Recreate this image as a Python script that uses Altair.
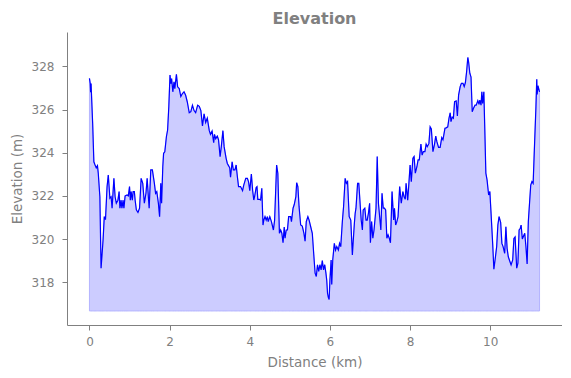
import altair as alt
import pandas as pd

distance_km = [
    0.00, 0.02, 0.03, 0.04, 0.08, 0.11, 0.14, 0.17, 0.20, 0.22, 0.26, 0.29, 0.34, 0.37, 0.40,
    0.44, 0.47, 0.51, 0.54, 0.565, 0.61, 0.64, 0.67, 0.71, 0.74, 0.76, 0.79, 0.81, 0.84, 0.86,
    0.89, 0.94, 0.97, 1.00, 1.02, 1.04, 1.07, 1.09, 1.12, 1.14, 1.17, 1.21, 1.25, 1.29, 1.33,
    1.37, 1.41, 1.44, 1.47, 1.49, 1.53, 1.57, 1.62, 1.65, 1.68, 1.72, 1.75, 1.78, 1.80, 1.83,
    1.85, 1.88, 1.92, 1.95, 1.98, 2.01, 2.03, 2.05, 2.08, 2.11, 2.13, 2.17, 2.20, 2.24, 2.28,
    2.32, 2.36, 2.40, 2.44, 2.49, 2.53, 2.57, 2.61, 2.65, 2.70, 2.74, 2.78, 2.82, 2.86, 2.90,
    2.94, 2.99, 3.02, 3.06, 3.10, 3.12, 3.15, 3.19, 3.22, 3.26, 3.29, 3.33, 3.36, 3.41, 3.44,
    3.47, 3.50, 3.52, 3.56, 3.59, 3.63, 3.66, 3.69, 3.72, 3.77, 3.82, 3.85, 3.90, 3.94, 3.97,
    4.00, 4.04, 4.07, 4.10, 4.12, 4.16, 4.18, 4.20, 4.24, 4.27, 4.30, 4.33, 4.35, 4.38, 4.41,
    4.44, 4.46, 4.50, 4.54, 4.59, 4.62, 4.67, 4.70, 4.74, 4.77, 4.80, 4.83, 4.86, 4.88, 4.91,
    4.94, 4.97, 5.02, 5.04, 5.08, 5.11, 5.15, 5.17, 5.20, 5.23, 5.27, 5.31, 5.35, 5.38, 5.41,
    5.45, 5.48, 5.52, 5.56, 5.60, 5.63, 5.66, 5.69, 5.72, 5.75, 5.78, 5.81, 5.84, 5.87, 5.90,
    5.92, 5.94, 5.96, 5.98, 6.00, 6.03, 6.045, 6.07, 6.11, 6.14, 6.17, 6.21, 6.24, 6.27, 6.31,
    6.34, 6.38, 6.41, 6.44, 6.48, 6.52, 6.56, 6.58, 6.61, 6.63, 6.65, 6.69, 6.72, 6.78, 6.81,
    6.83, 6.87, 6.90, 6.93, 6.96, 6.99, 7.01, 7.04, 7.07, 7.10, 7.15, 7.18, 7.21, 7.27, 7.30,
    7.33, 7.36, 7.39, 7.42, 7.45, 7.48, 7.51, 7.55, 7.59, 7.61, 7.64, 7.67, 7.70, 7.74, 7.78,
    7.82, 7.85, 7.88, 7.90, 7.94, 7.97, 8.00, 8.03, 8.07, 8.10, 8.13, 8.17, 8.20, 8.23, 8.27,
    8.30, 8.33, 8.37, 8.40, 8.43, 8.47, 8.50, 8.53, 8.57, 8.61, 8.64, 8.67, 8.71, 8.75, 8.79,
    8.82, 8.87, 8.90, 8.94, 8.97, 9.00, 9.02, 9.05, 9.08, 9.11, 9.15, 9.18, 9.21, 9.25, 9.28,
    9.32, 9.35, 9.38, 9.41, 9.44, 9.46, 9.49, 9.52, 9.55, 9.58, 9.62, 9.65, 9.69, 9.72, 9.74,
    9.77, 9.79, 9.81, 9.84, 9.86, 9.89, 9.92, 9.96, 9.99, 10.02, 10.06, 10.09, 10.12, 10.16, 10.19,
    10.22, 10.26, 10.29, 10.32, 10.36, 10.39, 10.42, 10.45, 10.49, 10.52, 10.56, 10.59, 10.62, 10.66, 10.69,
    10.72, 10.75, 10.77, 10.80, 10.86, 10.89, 10.92, 10.95, 10.98, 11.01, 11.04, 11.07, 11.10, 11.14, 11.16,
    11.17, 11.19, 11.23,
]

elevation_m = [
    327.44, 327.2, 326.8, 327.2, 325.36, 323.58, 323.43, 323.3, 323.4, 323.05, 321.96, 318.65, 319.96, 321.04, 320.9,
    322.43, 322.97, 321.89, 321.96, 321.43, 322.81, 321.96, 321.66, 321.8, 322.2, 321.43, 321.8, 321.43, 321.8, 321.43,
    322.0, 322.04, 322.0, 322.43, 321.8, 322.2, 321.8, 322.2, 322.2, 321.8, 321.35, 321.23, 321.43, 322.81, 322.58,
    321.66, 322.12, 322.81, 321.96, 321.43, 323.2, 323.2, 322.58, 322.12, 322.2, 321.66, 321.04, 322.58, 321.66, 323.35,
    323.97, 324.04, 324.74, 325.05, 326.13, 327.6, 327.2, 327.43, 326.82, 327.28, 326.97, 327.63, 327.05, 326.97, 326.6,
    326.74, 326.82, 326.66, 326.36, 325.85, 325.9, 326.2, 325.95, 325.85, 326.2, 326.15, 325.95, 325.24, 325.8, 325.4,
    325.6, 325.02, 324.85, 325.0, 324.46, 324.85, 324.65, 324.77, 324.6, 323.82, 324.28, 325.02, 324.28, 323.74, 323.5,
    323.4, 323.3, 322.86, 323.58, 323.2, 323.2, 323.43, 322.9, 322.43, 322.43, 322.24, 322.5, 322.81, 322.81, 322.65,
    322.24, 323.01, 322.27, 321.81, 321.96, 322.39, 322.43, 321.84, 321.84, 321.81, 322.35, 320.65, 320.88, 321.04, 320.88,
    321.04, 320.81, 321.04, 320.81, 320.42, 320.88, 323.43, 323.05, 320.27, 320.42, 320.27, 319.83, 320.56, 320.04, 320.42,
    320.42, 321.04, 321.04, 320.81, 321.43, 321.6, 321.96, 322.61, 322.43, 321.5, 320.65, 320.6, 320.27, 319.9, 320.81,
    321.04, 320.88, 320.57, 320.27, 319.19, 318.42, 318.27, 318.81, 318.5, 318.81, 318.57, 319.0, 318.57, 318.81, 318.42,
    318.1, 317.49, 317.3, 317.2, 318.11, 319.03, 317.9, 319.03, 319.8, 319.49, 319.65, 319.49, 319.8, 319.65, 320.81,
    321.5, 322.81, 322.58, 322.66, 321.04, 320.88, 319.26, 319.88, 320.73, 321.19, 321.43, 322.58, 322.58, 320.88, 320.42,
    321.35, 321.43, 320.88, 320.88, 321.19, 321.66, 319.83, 320.81, 320.04, 320.42, 321.43, 323.82, 321.66, 320.42, 322.12,
    321.43, 321.43, 321.35, 320.04, 320.2, 320.04, 319.83, 322.2, 320.88, 321.43, 320.65, 320.81, 321.04, 322.43, 321.66,
    322.2, 321.96, 321.84, 322.58, 321.8, 322.58, 323.43, 322.66, 323.74, 323.82, 323.05, 323.35, 323.67, 323.67, 324.4,
    323.89, 324.05, 324.05, 324.4, 324.28, 324.43, 325.2, 325.1, 324.05, 324.4, 324.77, 324.5, 324.25, 324.25, 324.7,
    324.6, 325.13, 325.15, 325.2, 325.59, 325.85, 325.44, 325.65, 325.6, 326.36, 326.4, 325.7, 326.67, 327.06, 327.21,
    327.21, 327.06, 327.25, 327.75, 328.41, 328.2, 327.68, 327.5, 325.9, 326.05, 326.2, 326.2, 326.41, 326.24, 326.44,
    326.2, 326.82, 326.28, 326.82, 325.36, 323.05, 322.74, 322.04, 322.2, 321.19, 319.8, 318.6, 319.03, 319.65, 320.65,
    321.04, 320.76, 319.8, 319.65, 319.34, 320.57, 319.57, 319.18, 318.96, 318.8, 319.03, 320.03, 320.1, 318.65, 318.88,
    320.42, 320.5, 320.65, 320.0, 320.27, 319.65, 318.85, 320.81, 321.66, 322.5, 322.66, 322.58, 324.12, 326.13, 327.4,
    326.7, 327.1, 326.82,
]

fill_base = 316.67
x_ticks = [0, 2, 4, 6, 8, 10]
y_ticks = [318, 320, 322, 324, 326, 328]

df = pd.DataFrame({"dist": distance_km, "elev": elevation_m})
df["base"] = fill_base

gray = "#808080"
xscale = alt.Scale(domain=[-0.56, 11.79], nice=False, zero=False)
yscale = alt.Scale(domain=[316.02, 329.59], nice=False, zero=False)

xaxis = alt.Axis(values=x_ticks, title="Distance (km)", grid=False, format="d")
yaxis = alt.Axis(values=y_ticks, title="Elevation (m)", grid=False, format="d")

area = alt.Chart(df).mark_area(
    color="#ccccff", stroke="#b3b3ff", strokeWidth=1, opacity=1
).encode(
    x=alt.X("dist:Q", scale=xscale, axis=xaxis),
    y=alt.Y("elev:Q", scale=yscale, axis=yaxis),
    y2="base:Q",
)

line = alt.Chart(df).mark_line(color="blue", strokeWidth=1.2).encode(
    x=alt.X("dist:Q", scale=xscale),
    y=alt.Y("elev:Q", scale=yscale),
)

chart = (
    alt.layer(area, line)
    .properties(
        width=495,
        height=293,
        autosize="none",
        padding={"left": 59, "top": 24, "right": 0, "bottom": 45},
        title=alt.TitleParams(
            "Elevation", fontSize=16, fontWeight="bold", color=gray,
            font="DejaVu Sans", anchor="middle", offset=5,
        ),
    )
    .configure_view(stroke=None)
    .configure_axis(
        domainColor=gray,
        tickColor=gray,
        tickSize=5,
        labelColor=gray,
        titleColor=gray,
        labelFont="DejaVu Sans",
        titleFont="DejaVu Sans",
        labelFontSize=12,
        titleFontSize=13.5,
        titleFontWeight="normal",
    )
    .configure_axisX(labelPadding=6, titlePadding=8)
    .configure_axisY(labelPadding=8, titlePadding=7)
)

chart.save("out.html", embed_options={"renderer": "svg", "actions": False})
